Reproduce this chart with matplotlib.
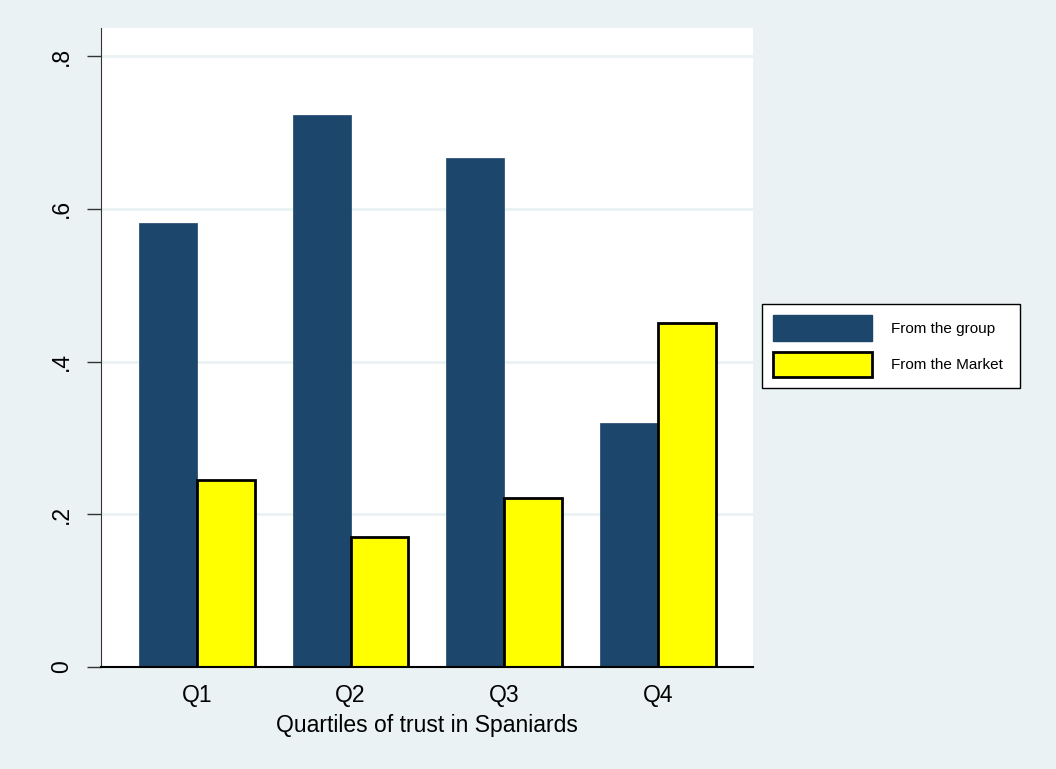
import numpy as np
import matplotlib.pyplot as plt
from matplotlib.patches import Patch

plt.rcParams['font.family'] = ['Liberation Sans', 'DejaVu Sans']

quartiles = ["Q1", "Q2", "Q3", "Q4"]
from_group = [0.581, 0.723, 0.666, 0.319]
from_market = [0.245, 0.170, 0.221, 0.450]
yticks = [0, 0.2, 0.4, 0.6, 0.8]
yticklabels = ["0", ".2", ".4", ".6", ".8"]

bg = "#EAF2F3"
blue = "#1C466C"
yellow = "#FFFF00"

fig = plt.figure(figsize=(10.56, 7.69), dpi=100, facecolor=bg)
ax = fig.add_axes([101/1056, 1 - 667/769, (753-101)/1056, (667-28)/769])
ax.set_facecolor("white")

x = np.arange(len(quartiles))
w = 0.377
ax.bar(x - w/2, from_group, width=w, color=blue, edgecolor=blue, linewidth=0.5, zorder=3)
ax.bar(x + w/2, from_market, width=w, color=yellow, edgecolor="black", linewidth=2, zorder=3)

ax.set_xlim(-0.625, 3.62)
ax.set_ylim(0, 0.8367)
ax.set_yticks(yticks)
ax.set_yticklabels(yticklabels, rotation=90, va="center", fontsize=16.5)
ax.set_xticks(x)
ax.set_xticklabels(quartiles, fontsize=16.5)
ax.tick_params(axis="x", length=0, pad=12)
ax.tick_params(axis="y", length=10, width=1, color="#333333", pad=10)
ax.grid(axis="y", color=bg, linewidth=2, zorder=0)
ax.set_axisbelow(True)
for s in ["top", "right"]:
    ax.spines[s].set_visible(False)
ax.spines["left"].set_color("#333333")
ax.spines["bottom"].set_color("black")
ax.spines["bottom"].set_linewidth(1.5)
ax.spines["bottom"].set_zorder(4)
ax.set_xlabel("Quartiles of trust in Spaniards", fontsize=16.5, labelpad=5)

handles = [Patch(facecolor=blue, edgecolor=blue),
           Patch(facecolor=yellow, edgecolor="black", linewidth=2)]
leg = fig.legend(handles, ["From the group", "From the Market"],
                 loc="upper left",
                 bbox_to_anchor=(762/1056, 1 - 392/769, 258/1056, 88/769),
                 mode="expand",
                 fontsize=11, frameon=True, fancybox=False, edgecolor="black",
                 framealpha=1, facecolor="white",
                 handlelength=6.5, handleheight=2.23, handletextpad=1.2,
                 labelspacing=0.7, borderpad=0.72, borderaxespad=0)
leg.get_frame().set_linewidth(1)

fig.savefig("out.png", dpi=100, facecolor=bg)
